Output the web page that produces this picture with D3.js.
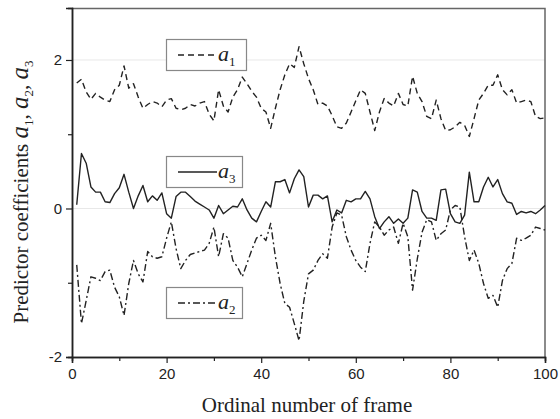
<!DOCTYPE html>
<html>
<head>
<meta charset="utf-8">
<script src="https://cdn.jsdelivr.net/npm/d3@7"></script>
<style>
  body { margin: 0; background: #fff; }
  svg { display: block; }
</style>
</head>
<body>
<div id="chart"></div>
<script>
// frame numbers 1..100
var frames = d3.range(1, 101);

// predictor coefficients
var a1 = [1.69, 1.74, 1.57, 1.47, 1.55, 1.50, 1.46, 1.44, 1.60, 1.66,
          1.92, 1.62, 1.68, 1.50, 1.35, 1.40, 1.44, 1.42, 1.37, 1.46,
          1.48, 1.35, 1.33, 1.35, 1.40, 1.38, 1.42, 1.44, 1.27, 1.18,
          1.60, 1.38, 1.30, 1.50, 1.60, 1.77, 1.68, 1.58, 1.50, 1.35,
          1.30, 1.08, 1.35, 1.60, 1.80, 1.95, 1.90, 2.18, 1.95, 1.75,
          1.60, 1.40, 1.42, 1.38, 1.25, 1.10, 1.08, 1.15, 1.30, 1.45,
          1.60, 1.55, 1.30, 1.05, 1.30, 1.48, 1.42, 1.38, 1.55, 1.40,
          1.38, 1.78, 1.55, 1.44, 1.24, 1.21, 1.46, 1.21, 1.05, 1.06,
          1.10, 1.16, 1.12, 0.97, 1.21, 1.46, 1.55, 1.66, 1.66, 1.80,
          1.60, 1.53, 1.60, 1.42, 1.44, 1.46, 1.44, 1.24, 1.21, 1.22];

var a2 = [-0.76, -1.55, -1.24, -0.92, -0.94, -0.97, -0.85, -0.83, -1.06, -1.19,
          -1.44, -1.01, -0.70, -0.88, -0.99, -0.58, -0.65, -0.67, -0.65, -0.40,
          -0.18, -0.54, -0.81, -0.70, -0.62, -0.60, -0.58, -0.56, -0.47, -0.25,
          -0.65, -0.34, -0.40, -0.70, -0.79, -0.92, -0.74, -0.56, -0.40, -0.36,
          -0.43, -0.20, -0.65, -1.01, -1.28, -1.33, -1.55, -1.78, -1.25, -0.88,
          -0.83, -0.70, -0.61, -0.67, -0.25, -0.06, -0.09, -0.38, -0.56, -0.70,
          -0.79, -0.85, -0.47, -0.18, -0.25, -0.36, -0.29, -0.25, -0.47, -0.20,
          -0.38, -1.10, -0.68, -0.32, -0.15, -0.18, -0.43, -0.34, -0.29, -0.02,
           0.04,  0.02, -0.38, -0.70, -0.56, -0.74, -1.01, -1.21, -1.17, -1.33,
          -0.97, -0.81, -0.74, -0.40, -0.43, -0.40, -0.36, -0.25, -0.27, -0.29];

var a3 = [0.05, 0.74, 0.61, 0.29, 0.22, 0.22, 0.09, 0.08, 0.20, 0.28,
          0.46, 0.22, 0.00, 0.17, 0.31, 0.09, 0.17, 0.11, 0.21, -0.07,
          -0.13, 0.16, 0.22, 0.22, 0.16, 0.10, 0.06, 0.02, -0.02, -0.13,
          0.04, -0.07, -0.02, 0.03, 0.02, 0.13, -0.02, -0.13, -0.18, -0.04,
          0.09, 0.02, 0.36, 0.36, 0.39, 0.21, 0.40, 0.52, 0.43, 0.02,
          0.18, 0.18, 0.13, 0.17, -0.18, -0.02, -0.06, 0.11, 0.09, 0.13,
          0.13, 0.23, 0.13, -0.11, -0.27, -0.18, -0.11, -0.20, -0.14, -0.20,
          -0.13, 0.25, 0.22, -0.04, -0.13, -0.13, -0.16, 0.25, 0.26, -0.07,
          -0.18, -0.20, -0.09, 0.49, 0.09, 0.09, 0.29, 0.42, 0.29, 0.39,
          0.20, 0.09, 0.07, -0.08, -0.04, -0.06, -0.04, -0.07, -0.02, 0.04];

var xTicks = [0, 20, 40, 60, 80, 100];
var yTicks = [-2, 0, 2];

var svgWidth = 560, svgHeight = 419;
var margin = {top: 8, right: 15, bottom: 62, left: 72};
var chartWidth = svgWidth - margin.left - margin.right;
var chartHeight = svgHeight - margin.top - margin.bottom;

var svg = d3.select("#chart").append("svg")
    .attr("width", svgWidth)
    .attr("height", svgHeight);

var chartGroup = svg.append("g")
    .attr("transform", `translate(${margin.left}, ${margin.top})`);

var xScale = d3.scaleLinear().domain([0, 100]).range([0, chartWidth]);
var yScale = d3.scaleLinear().domain([-2, 2.7]).range([chartHeight, 0]);

// faint grid lines at major y ticks
chartGroup.selectAll(".grid")
    .data(yTicks.filter(d => d > -2))
    .enter().append("line")
    .attr("x1", 0).attr("x2", chartWidth)
    .attr("y1", d => yScale(d)).attr("y2", d => yScale(d))
    .attr("stroke", "#e8e8e8").attr("stroke-width", 1);

// top and right frame
chartGroup.append("path")
    .attr("d", `M0,0.5H${chartWidth}V${chartHeight}`)
    .attr("fill", "none").attr("stroke", "#666").attr("stroke-width", 1.5);

// minor ticks
var xMinor = d3.axisBottom(xScale).tickValues(d3.range(10, 100, 20)).tickSize(4).tickFormat("");
var yMinor = d3.axisLeft(yScale).tickValues([-1, 1]).tickSize(4).tickFormat("");

// plain hyphen minus like the original
var fmt = d => String(d);
var xAxis = d3.axisBottom(xScale).tickValues(xTicks).tickSize(6).tickPadding(5).tickFormat(fmt);
var yAxis = d3.axisLeft(yScale).tickValues(yTicks).tickSize(6).tickPadding(4).tickFormat(fmt);

function styleAxis(g) {
    g.select(".domain").attr("stroke", "#222").attr("stroke-width", 1.5);
    g.selectAll(".tick line").attr("stroke", "#222").attr("stroke-width", 1.2);
    g.selectAll("text").attr("font-family", "Liberation Sans, Arial, sans-serif")
        .attr("font-size", 15).attr("fill", "#222");
}

chartGroup.append("g").attr("transform", `translate(0, ${chartHeight})`).call(xMinor).call(styleAxis);
chartGroup.append("g").call(yMinor).call(styleAxis);
chartGroup.append("g").attr("transform", `translate(0, ${chartHeight})`).call(xAxis).call(styleAxis);
chartGroup.append("g").call(yAxis).call(styleAxis);

// series
var series = [
    {name: "1", values: a1, dash: "6,4", legendY: 55},
    {name: "3", values: a3, dash: null, legendY: 172},
    {name: "2", values: a2, dash: "7,3,2,3", legendY: 303}
];

var line = d3.line()
    .x((d, i) => xScale(frames[i]))
    .y(d => yScale(d));

series.forEach(function(s) {
    chartGroup.append("path")
        .datum(s.values)
        .attr("d", line)
        .attr("fill", "none")
        .attr("stroke", "#222")
        .attr("stroke-width", 1.4)
        .attr("stroke-linejoin", "round")
        .attr("stroke-dasharray", s.dash);
});

// legend boxes
series.forEach(function(s) {
    var g = svg.append("g").attr("transform", `translate(166, ${s.legendY})`);
    g.append("rect")
        .attr("x", 0.5).attr("y", -15.5)
        .attr("width", s.name === "1" ? 80 : 76).attr("height", 31)
        .attr("fill", "#fff").attr("stroke", "#888").attr("stroke-width", 1.2);
    g.append("line")
        .attr("x1", 12).attr("x2", 51).attr("y1", 0).attr("y2", 0)
        .attr("stroke", "#222").attr("stroke-width", 1.4)
        .attr("stroke-dasharray", s.dash);
    var t = g.append("text")
        .attr("x", 52).attr("y", 6)
        .attr("font-family", "Liberation Serif, Times New Roman, serif")
        .attr("font-size", 22).attr("fill", "#222");
    t.append("tspan").attr("font-style", "italic").text("a");
    t.append("tspan").attr("font-size", 13).attr("dy", 5).text(s.name);
});

// axis titles
svg.append("text")
    .attr("x", 307).attr("y", 412)
    .attr("text-anchor", "middle")
    .attr("font-family", "Liberation Serif, Times New Roman, serif")
    .attr("font-size", 21).attr("fill", "#222")
    .text("Ordinal number of frame");

var yt = svg.append("text")
    .attr("transform", "translate(28, 192) rotate(-90)")
    .attr("text-anchor", "middle")
    .attr("font-family", "Liberation Serif, Times New Roman, serif")
    .attr("font-size", 21).attr("fill", "#222");
yt.append("tspan").text("Predictor coefficients ");
[["1", ", "], ["2", ", "], ["3", ""]].forEach(function(p) {
    yt.append("tspan").attr("font-style", "italic").attr("font-size", 25).text("a");
    yt.append("tspan").attr("font-size", 13).attr("dy", 5).text(p[0]);
    yt.append("tspan").attr("dy", -5).text(p[1]);
});
</script>
</body>
</html>
